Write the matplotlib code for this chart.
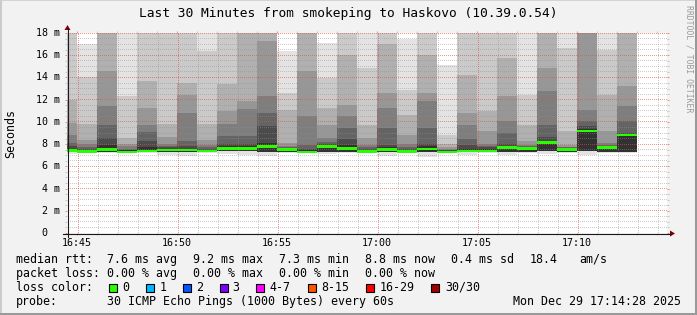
import math
import matplotlib
matplotlib.use("Agg")
import matplotlib.pyplot as plt
from matplotlib.patches import Rectangle, Polygon
from matplotlib.lines import Line2D
from matplotlib.transforms import IdentityTransform

W, H, DPI = 697, 315, 100

# ---------------- data ----------------
title = "Last 30 Minutes from smokeping to Haskovo (10.39.0.54)"
watermark = "RRDTOOL / TOBI OETIKER"
y_label = "Seconds"

window_start = "16:44:30"
window_end = "17:14:30"
sample_times = ["16:45", "16:46", "16:47", "16:48", "16:49", "16:50", "16:51", "16:52",
                "16:53", "16:54", "16:55", "16:56", "16:57", "16:58", "16:59", "17:00",
                "17:01", "17:02", "17:03", "17:04", "17:05", "17:06", "17:07", "17:08",
                "17:09", "17:10", "17:11", "17:12", "17:13"]

median_ms = [7.43, 7.35, 7.5, 7.3, 7.4, 7.45, 7.45, 7.4, 7.6, 7.6, 7.8, 7.5, 7.3, 7.8, 7.6,
             7.35, 7.5, 7.35, 7.55, 7.3, 7.4, 7.4, 7.7, 7.6, 8.15, 7.5, 9.2, 7.7, 8.8]
min_ms = [7.1, 7.2, 7.2, 7.2, 7.2, 7.0, 6.9, 7.2, 7.1, 7.0, 6.9, 7.2, 7.2, 7.1, 7.2,
          7.2, 6.9, 7.2, 6.8, 7.2, 7.0, 7.2, 7.0, 7.2, 7.1, 7.2, 7.0, 7.2, 7.2]
inner_low_ms = [7.25, 7.25, 7.25, 7.25, 7.3, 7.3, 7.3, 7.3, 7.35, 7.35, 7.3, 7.3, 7.25, 7.3, 7.3,
                7.25, 7.3, 7.25, 7.3, 7.25, 7.3, 7.3, 7.3, 7.3, 7.35, 7.3, 7.35, 7.3, 7.3]
# upper edges of the smoke bands (outer -> inner), one row per sample
smoke_tops = [
    [19, 18.5, 12.0, 9.9, 8.85, 8.1, 7.8, 7.6],
    [17.0, 14.0, 9.8, 8.4, 8.0, 7.7, 7.6, 7.5],
    [21, 19.5, 18.5, 14.55, 11.4, 9.75, 8.55, 7.9],
    [18.5, 12.3, 8.55, 8.0, 7.8, 7.6, 7.5, 7.45],
    [19, 18.5, 13.65, 11.25, 9.75, 9.1, 8.25, 7.7],
    [20, 19, 9.8, 8.6, 8.0, 7.8, 7.7, 7.6],
    [20, 19, 13.5, 12.45, 10.8, 8.25, 7.8, 7.6],
    [19, 16.4, 9.8, 8.4, 7.9, 7.7, 7.6, 7.5],
    [20, 19, 13.4, 11.0, 9.8, 8.7, 8.0, 7.8],
    [21, 19.5, 18.5, 11.85, 11.2, 8.7, 8.0, 7.8],
    [22, 20, 18.5, 17.3, 12.3, 10.8, 9.6, 8.1],
    [16.35, 12.6, 11.1, 8.1, 7.8, 7.7, 7.6, 7.55],
    [21, 19.5, 18.5, 14.55, 10.5, 7.9, 7.6, 7.45],
    [17.1, 13.95, 11.25, 9.75, 8.55, 8.2, 8.05, 7.95],
    [21, 19.5, 16.05, 11.55, 10.5, 9.45, 8.5, 7.9],
    [19, 14.85, 9.75, 8.55, 7.9, 7.7, 7.6, 7.5],
    [21, 19.5, 17.0, 12.6, 11.25, 9.45, 7.95, 7.7],
    [17.5, 12.9, 10.65, 8.85, 8.0, 7.7, 7.6, 7.5],
    [21, 19.5, 16.05, 12.6, 11.85, 9.45, 8.0, 7.8],
    [15.15, 8.85, 8.0, 7.7, 7.6, 7.5, 7.45, 7.4],
    [21, 19.5, 14.25, 10.8, 9.75, 8.5, 7.9, 7.6],
    [20, 19, 10.95, 9.15, 8.0, 7.8, 7.7, 7.55],
    [21, 19.5, 15.75, 12.3, 10.05, 9.0, 8.0, 7.85],
    [19, 12.45, 9.75, 8.25, 7.9, 7.8, 7.75, 7.7],
    [21, 19.5, 18.5, 14.85, 12.75, 9.75, 8.6, 8.3],
    [19, 16.65, 9.15, 7.9, 7.75, 7.7, 7.65, 7.6],
    [22, 20, 19, 18.5, 11.1, 10.05, 9.6, 9.4],
    [19, 16.5, 12.45, 9.15, 8.1, 7.9, 7.85, 7.8],
    [21, 19.5, 18.5, 13.2, 11.4, 10.05, 9.0, 8.9],
]

y_ticks = [0, 2, 4, 6, 8, 10, 12, 14, 16, 18]
y_tick_labels = ["0  ", "2 m", "4 m", "6 m", "8 m", "10 m", "12 m", "14 m", "16 m", "18 m"]
x_tick_labels = ["16:45", "16:50", "16:55", "17:00", "17:05", "17:10"]

rtt_stats = ["7.6 ms avg", "9.2 ms max", "7.3 ms min", "8.8 ms now", "0.4 ms sd", "18.4", "am/s"]
loss_stats = ["0.00 % avg", "0.00 % max", "0.00 % min", "0.00 % now"]
loss_labels = ["0", "1", "2", "3", "4-7", "8-15", "16-29", "30/30"]
loss_colors = ["#26ff00", "#00b8ff", "#0059ff", "#7e00ff", "#ff00ff", "#ff5500", "#ff0000", "#a10000"]
probe_text = "30 ICMP Echo Pings (1000 Bytes) every 60s"
stamp_text = "Mon Dec 29 17:14:28 2025"

# ---------------- helpers ----------------
MONO = "DejaVu Sans Mono"
BACK = "#f2f2f2"
GRID = (0.56, 0.56, 0.56, 0.45)
MGRID = (0.87, 0.31, 0.31, 0.6)
GREEN = "#26ff00"

# canvas in pixels (top-origin)
CX0, CX1, CY0, CY1 = 67, 667, 233, 33


def to_min(s):
    p = [int(v) for v in s.split(":")]
    return p[0] * 60 + p[1] + (p[2] / 60.0 if len(p) > 2 else 0)


def fx(x):
    return x / W


def fy(y):
    return 1 - y / H


t0, t1 = to_min(window_start), to_min(window_end)
ends = [to_min(s) for s in sample_times]
starts = [t0] + ends[:-1]
widths = [e - s for s, e in zip(starts, ends)]

fig = plt.figure(figsize=(W / DPI, H / DPI), dpi=DPI, facecolor=BACK)

# frame
fig.add_artist(Rectangle((0, fy(1)), 1, 1 / H, transform=fig.transFigure, color="#d4d4d4", lw=0))
fig.add_artist(Rectangle((0, 0), 2 / W, 1, transform=fig.transFigure, color="#cbcbcb", lw=0))
fig.add_artist(Rectangle((0, 0), 1, 2 / H, transform=fig.transFigure, color="#999999", lw=0))
fig.add_artist(Rectangle((fx(W - 2), 0), 2 / W, 1, transform=fig.transFigure, color="#999999", lw=0))

ax = fig.add_axes([fx(CX0), fy(CY0), (CX1 - CX0) / W, (CY0 - CY1) / H])
ax.set_facecolor("white")
ax.set_xlim(t0, t1)
ax.set_ylim(0, 18)
for sp in ax.spines.values():
    sp.set_visible(False)

# smoke
n_bands = len(smoke_tops[0])
for j in range(n_bands):
    ibot = 2 * j + 1
    g = int(190 / 15 * (15 - ibot)) + 50
    col = "#%02x%02x%02x" % (g, g, g)
    bottoms = min_ms if j == 0 else inner_low_ms
    tops = [row[j] for row in smoke_tops]
    ax.bar(starts, [t - b for t, b in zip(tops, bottoms)], width=widths, bottom=bottoms,
           align="edge", color=col, linewidth=0, antialiased=False, zorder=2)

# dotted grid drawn pixel by pixel (1 on / 1 off)
ID = IdentityTransform()
major_x = [to_min(s) for s in x_tick_labels]
minor_x = [m for m in range(int(t0) + 1, int(t1) + 1) if m not in major_x]
minor_y = [v / 2 for v in range(0, 37) if v % 4 != 0]
bot_disp = H - CY0
top_disp = H - CY1
row_xs = [CX0 + 2 * k + 0.5 for k in range((CX1 - CX0) // 2)]
col_ys = [bot_disp + 2 * k + 0.5 for k in range((top_disp - bot_disp) // 2)]


def hline(v, color):
    yd = bot_disp + v * (top_disp - bot_disp) / 18.0
    yc = math.ceil(yd - 1e-6) - 0.5
    ax.add_artist(Line2D(row_xs, [yc] * len(row_xs), transform=ID, linestyle="none", marker=",",
                         color=color, zorder=3, clip_on=False))


def vline(m, color):
    xd = CX0 + (m - t0) * (CX1 - CX0) / (t1 - t0)
    xc = math.floor(xd + 1e-6) + 0.5
    ax.add_artist(Line2D([xc] * len(col_ys), col_ys, transform=ID, linestyle="none", marker=",",
                         color=color, zorder=3, clip_on=False))


for y in minor_y:
    hline(y, GRID)
for x in minor_x:
    vline(x, GRID)
for y in y_ticks[1:]:
    hline(y, MGRID)
for x in major_x:
    vline(x, MGRID)

ax.set_xticks(major_x)
ax.set_xticks(minor_x, minor=True)
ax.set_yticks(y_ticks)
ax.set_yticks(minor_y, minor=True)
ax.tick_params(which="both", direction="out", length=1.5, width=0.72, top=True, right=True,
               labelbottom=False, labelleft=False)
ax.tick_params(which="major", color=MGRID)
ax.tick_params(which="minor", color=GRID)

# median
ax.bar(starts, [0.22] * len(median_ms), width=widths, bottom=[m - 0.11 for m in median_ms],
       align="edge", color=GREEN, linewidth=0, antialiased=False, zorder=4)

# tick labels
for v, lab in zip(y_ticks, y_tick_labels):
    ax.text((60 - CX0) / 600, v, lab, transform=ax.get_yaxis_transform(), ha="right", va="center",
            fontsize=7.2, family=MONO, color="black")
for x, lab in zip(major_x, x_tick_labels):
    ax.text(x, (CY0 - 245.7) / 200, lab, transform=ax.get_xaxis_transform(), ha="center",
            va="baseline", fontsize=7.2, family=MONO, color="black")

# axes lines + arrows
AX = "#1a1a1a"
fig.add_artist(Line2D([fx(63), fx(671)], [fy(233.5), fy(233.5)], transform=fig.transFigure, color=AX, lw=0.8))
fig.add_artist(Line2D([fx(67.5), fx(67.5)], [fy(237), fy(29)], transform=fig.transFigure, color=AX, lw=0.8))
fig.add_artist(Polygon([(fx(675), fy(233.5)), (fx(670), fy(230.5)), (fx(670), fy(236.5))],
                       transform=fig.transFigure, color="#800000", lw=0))
fig.add_artist(Polygon([(fx(67.5), fy(25)), (fx(64.5), fy(30)), (fx(70.5), fy(30))],
                       transform=fig.transFigure, color="#800000", lw=0))

# titles
fig.text(fx(348.5), fy(17.3), title, ha="center", va="baseline", fontsize=9.3, family=MONO, color="black")
fig.text(fx(10.5), fy(133), y_label, ha="center", va="center", rotation=90, fontsize=8.4, family=MONO,
         color="black")
fig.text(fx(689), fy(5), watermark, ha="center", va="top", rotation=270, fontsize=5.9, family=MONO,
         color="#9a9a9a")

# legend
LS = 8.4
base = [262.7, 277.0, 291.0, 305.2]
fig.text(fx(16), fy(base[0]), "median rtt:", fontsize=LS, family=MONO, va="baseline")
for x, s in zip([107, 193, 279, 365, 451, 530, 579], rtt_stats):
    fig.text(fx(x), fy(base[0]), s, fontsize=LS, family=MONO, va="baseline")
fig.text(fx(16), fy(base[1]), "packet loss:", fontsize=LS, family=MONO, va="baseline")
for x, s in zip([107, 193, 279, 365], loss_stats):
    fig.text(fx(x), fy(base[1]), s, fontsize=LS, family=MONO, va="baseline")
fig.text(fx(16), fy(base[2]), "loss color:", fontsize=LS, family=MONO, va="baseline")
box_x = [108.5, 146, 183, 219.5, 256, 307.5, 366, 431]
lab_x = [122.5, 159.5, 196.5, 232.5, 269.5, 321.5, 380, 445]
for bx, lx, lab, col in zip(box_x, lab_x, loss_labels, loss_colors):
    fig.add_artist(Rectangle((fx(bx), fy(291.5)), 8 / W, 8 / H, transform=fig.transFigure,
                             facecolor=col, edgecolor="black", lw=0.8))
    fig.text(fx(lx), fy(base[2]), lab, fontsize=LS, family=MONO, va="baseline")
fig.text(fx(16), fy(base[3]), "probe:", fontsize=LS, family=MONO, va="baseline")
fig.text(fx(107), fy(base[3]), probe_text, fontsize=LS, family=MONO, va="baseline")
fig.text(fx(681), fy(base[3]), stamp_text, fontsize=LS, family=MONO, va="baseline", ha="right")

fig.savefig("out.png", dpi=DPI, facecolor=BACK)
